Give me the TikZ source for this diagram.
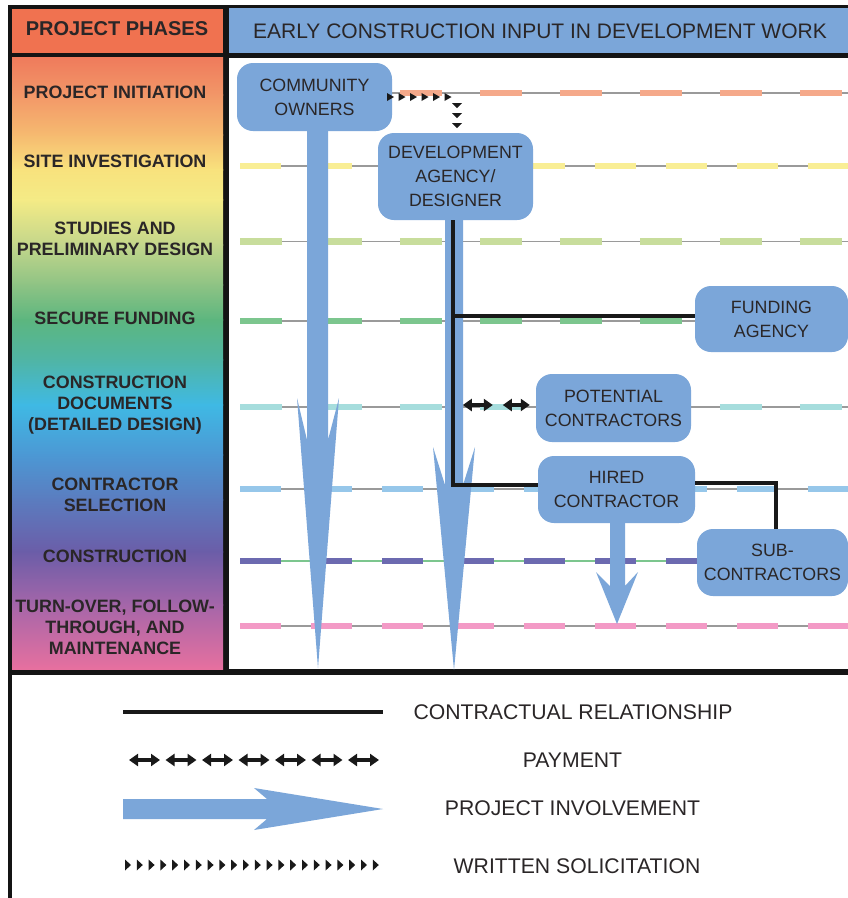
\documentclass[tikz,border=0pt]{standalone}
\usepackage{fontspec}
\setmainfont{Liberation Sans}
\usetikzlibrary{arrows.meta,calc}
\definecolor{boxblue}{HTML}{7BA6D9}
\definecolor{hdrred}{HTML}{F07250}
\definecolor{txt}{HTML}{2A2627}
\definecolor{rowor}{HTML}{F5A98A}
\definecolor{rowye}{HTML}{F9EE95}
\definecolor{rowlg}{HTML}{C8DD9C}
\definecolor{rowgr}{HTML}{7CC68E}
\definecolor{rowcy}{HTML}{A6DDDD}
\definecolor{rowlb}{HTML}{96C7EA}
\definecolor{rowpu}{HTML}{6C6AB0}
\definecolor{rowpk}{HTML}{F39AC6}
\definecolor{thinln}{HTML}{9A9A9A}
\definecolor{thingr}{HTML}{7CC68E}
\definecolor{g01}{HTML}{EF7B5C}
\definecolor{g02}{HTML}{F29768}
\definecolor{g03}{HTML}{F6BA70}
\definecolor{g04}{HTML}{F8E27D}
\definecolor{g05}{HTML}{F4EB86}
\definecolor{g06}{HTML}{C3D68B}
\definecolor{g07}{HTML}{8EC384}
\definecolor{g08}{HTML}{5CB67F}
\definecolor{g09}{HTML}{50B5A5}
\definecolor{g10}{HTML}{3FB9E4}
\definecolor{g11}{HTML}{4C98D4}
\definecolor{g12}{HTML}{5B7CBF}
\definecolor{g13}{HTML}{6B5DA8}
\definecolor{g14}{HTML}{A566A9}
\definecolor{g15}{HTML}{E7709F}
\begin{document}
\begin{tikzpicture}[x=1pt,y=-1pt,
  box/.style={fill=boxblue, rounded corners=16pt, align=center, text=txt,
    font=\fontsize{17.8}{24}\selectfont, inner sep=0pt},
  lbl/.style={align=center, text=txt, font=\bfseries\fontsize{17.9}{21}\selectfont, inner sep=0pt},
  lgd/.style={text=txt, font=\fontsize{21.2}{24}\selectfont, inner sep=0pt},
  contract/.style={line width=3.8pt, draw=black!90},
  pay/.style={line width=3.2pt, draw=black!90,
    {Triangle[length=9pt,width=12pt]}-{Triangle[length=9pt,width=12pt]}},
  invol/.style={fill=boxblue},
  solic/.style={fill=black!90}]
\useasboundingbox (0,0) rectangle (848,898);
% frame
\fill[white] (0,0) rectangle (848,898);
\fill[black!92] (8,5) rectangle (848,675);
\fill[black!92] (8,675) rectangle (12,898);
\fill[hdrred] (12,9) rectangle (223,53);
\fill[boxblue] (229,8) rectangle (848,53);
\fill[white] (229,58) rectangle (848,669);
% gradient column
\foreach \ya/\ca/\yb/\cb in {58/g01/95/g02, 95/g02/135/g03, 135/g03/170/g04, 170/g04/200/g05,
   200/g05/245/g06, 245/g06/285/g07, 285/g07/320/g08, 320/g08/360/g09, 360/g09/405/g10,
   405/g10/455/g11, 455/g11/500/g12, 500/g12/552/g13, 552/g13/605/g14, 605/g14/669/g15}
  \fill[top color=\ca, bottom color=\cb] (12,\ya-0.4) rectangle (223,\yb+0.4);
% headers
\node[text=txt, font=\bfseries\fontsize{20}{24}\selectfont] (hdrL) at (117,29) {PROJECT PHASES};
\node[text=txt, font=\fontsize{21}{24}\selectfont] (hdrR) at (540,31) {EARLY CONSTRUCTION INPUT IN DEVELOPMENT WORK};
% phase labels
\node[lbl] (l1) at (115,92) {PROJECT INITIATION};
\node[lbl] (l2) at (115,161) {SITE INVESTIGATION};
\node[lbl] (l3) at (115,238.5) {STUDIES AND\\PRELIMINARY DESIGN};
\node[lbl] (l4) at (115,318) {SECURE FUNDING};
\node[lbl] (l5) at (115,405) {CONSTRUCTION\\DOCUMENTS\\(DETAILED DESIGN)};
\node[lbl] (l6) at (115,494.5) {CONTRACTOR\\SELECTION};
\node[lbl] (l7) at (115,556) {CONSTRUCTION};
\node[lbl] (l8) at (115,627.5) {TURN-OVER, FOLLOW-\\THROUGH, AND\\MAINTENANCE};
% phase rows
\foreach \yy/\cc/\on/\off/\tc in {93/rowor/42/38/thinln, 166/rowye/41/30/thinln,
   241.5/rowlg/42/38/thinln, 321/rowgr/42/38/thinln, 407/rowcy/42/38/thinln,
   489/rowlb/41/30/thinln, 561/rowpu/41/30/thingr, 626/rowpk/41/30/thinln}{
  \draw[\tc, line width=1.2pt] (240,\yy) -- (848,\yy);
  \draw[\cc, line width=6.5pt, dash pattern=on \on pt off \off pt] (240,\yy) -- (848,\yy);
}
% project involvement arrows
\fill[invol] (307,110) -- (307,440) -- (297,398) -- (318,668) -- (339,398) -- (328,440) -- (328,110) -- cycle;
\fill[invol] (445,200) -- (445,485) -- (433,447) -- (454,670) -- (475,447) -- (463,485) -- (463,200) -- cycle;
\fill[invol] (610,505) -- (610,586) -- (596,572) -- (617,624) -- (638,572) -- (625,586) -- (625,505) -- cycle;
% boxes
\node[box, minimum width=155pt, minimum height=68pt] (co) at (314.5,97) {COMMUNITY\\OWNERS};
\node[box, minimum width=155pt, minimum height=87pt] (dev) at (455.5,176.5) {DEVELOPMENT\\AGENCY/\\DESIGNER};
\node[box, minimum width=153pt, minimum height=66pt] (fund) at (771.5,319) {FUNDING\\AGENCY};
\node[box, minimum width=155pt, minimum height=68pt] (pot) at (613.5,408) {POTENTIAL\\CONTRACTORS};
\node[box, minimum width=157pt, minimum height=67pt] (hired) at (616.5,489.5) {HIRED\\CONTRACTOR};
\node[box, minimum width=151pt, minimum height=67pt] (sub) at (772.5,562.5) {SUB-\\CONTRACTORS};
% contractual relationships
\coordinate (djoin) at ([xshift=-2.5pt]dev.south);
\draw[contract] (djoin) |- ([yshift=4.5pt]hired.west);
\draw[contract] ([yshift=3pt]fund.west) -- ([yshift=3pt]fund.west -| djoin);
\draw[contract] ([yshift=6.5pt]hired.east) -| ([xshift=3.5pt]sub.north);
% payment
\coordinate (p1) at ($(pot.west)+(-73,-3)$);
\coordinate (p2) at ($(pot.west)+(-43,-3)$);
\coordinate (p3) at ($(pot.west)+(-33,-3)$);
\coordinate (p4) at ($(pot.west)+(-6,-3)$);
\draw[pay] (p1) -- (p2);
\draw[pay] (p3) -- (p4);
% written solicitation
\foreach \i in {0,...,5}
  \fill[solic] (387+11.5*\i,93) -- ++(7,4) -- ++(-7,4) -- cycle;
\foreach \yy in {103,113,123}
  \fill[solic] (452,\yy) -- (462,\yy) -- (457,\yy+5) -- cycle;
% legend
\coordinate (lc1) at (123,712);
\coordinate (lc2) at (383,712);
\draw[contract, line width=4.5pt] (lc1) -- (lc2);
\node[lgd] (lg1) at (573,712) {CONTRACTUAL RELATIONSHIP};
\foreach \i in {0,...,6}
  \draw[pay] (129+36.5*\i,760) -- (160+36.5*\i,760);
\node[lgd] (lg2) at (572.5,760) {PAYMENT};
\fill[invol] (123,799) -- (267,799) -- (254,788) -- (383,809) -- (254,830) -- (267,819) -- (123,819) -- cycle;
\node[lgd] (lg3) at (572.5,808) {PROJECT INVOLVEMENT};
\foreach \i in {0,...,21}
  \fill[solic] (125+11.8*\i,859.5) -- ++(6,5.5) -- ++(-6,5.5) -- cycle;
\node[lgd] (lg4) at (577,866) {WRITTEN SOLICITATION};
\end{tikzpicture}
\end{document}
